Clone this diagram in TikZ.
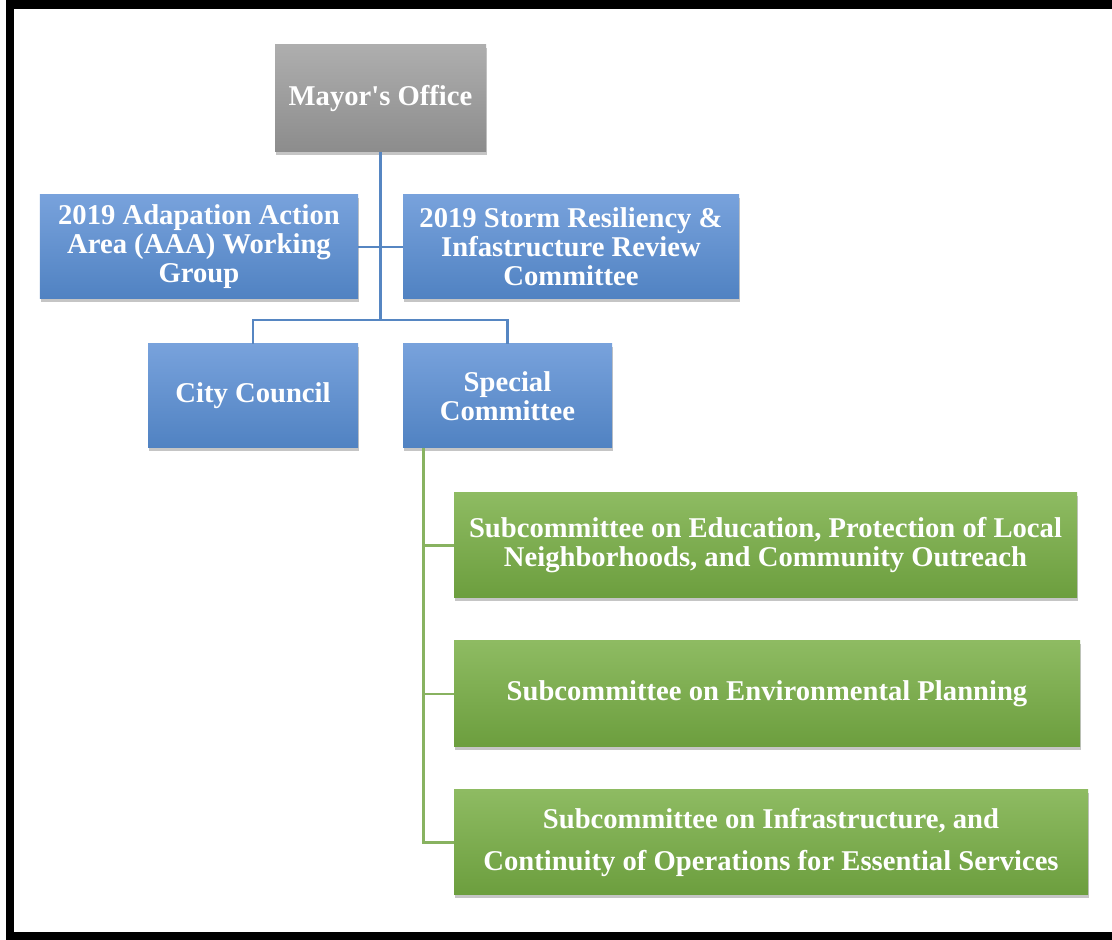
\documentclass[tikz,border=0pt]{standalone}
\usepackage{fontspec}
\setmainfont{Liberation Serif}
\usepackage{tikz}
\usetikzlibrary{shadows}
\definecolor{grayTop}{RGB}{174,174,174}
\definecolor{grayBot}{RGB}{140,140,140}
\definecolor{blueTop}{RGB}{120,162,220}
\definecolor{blueBot}{RGB}{80,130,194}
\definecolor{greenTop}{RGB}{142,187,98}
\definecolor{greenBot}{RGB}{108,158,62}
\definecolor{blueLine}{RGB}{86,134,194}
\definecolor{greenLine}{RGB}{136,178,96}
\tikzset{
	orgbox/.style={rectangle, inner sep=0pt, text=white, align=center,
		font=\fontsize{16.3}{16.5}\selectfont\bfseries,
		drop shadow={opacity=0.45, shadow xshift=0.02cm, shadow yshift=-0.07cm}},
	graybox/.style={orgbox, top color=grayTop, bottom color=grayBot},
	bluebox/.style={orgbox, top color=blueTop, bottom color=blueBot},
	greenbox/.style={orgbox, top color=greenTop, bottom color=greenBot},
	blueconn/.style={draw=blueLine, line width=1.4pt},
	greenconn/.style={draw=greenLine, line width=1.4pt}
}
\begin{document}
\begin{tikzpicture}
				\useasboundingbox (0, 0) rectangle (22.24, -18.8);
				\fill [white] (0, 0) rectangle (22.24, -18.8);
				\draw [line width=0.17cm] (22.5, -0.09) -- (0.2, -0.09) -- (0.2, -18.72) -- (22.5, -18.72);
				\node [graybox, minimum width=4.22cm, minimum height=2.14cm] (mayor) at (7.61, -1.97) {Mayor\textquotesingle s Office};
				\node [bluebox, minimum width=6.36cm, minimum height=2.08cm] (aaa) at (3.98, -4.94) {2019 Adapation Action\\Area (AAA) Working\\Group};
				\node [bluebox, minimum width=6.72cm, minimum height=2.08cm] (storm) at (11.42, -4.94) {2019 Storm Resiliency \&\\Infastructure Review\\Committee};
				\node [bluebox, minimum width=4.2cm, minimum height=2.08cm] (council) at (5.06, -7.92) {City Council};
				\node [bluebox, minimum width=4.18cm, minimum height=2.08cm] (special) at (10.15, -7.92) {Special\\Committee};
				\node [greenbox, minimum width=12.46cm, minimum height=2.1cm] (subedu) at (15.31, -10.91) {Subcommittee on Education, Protection of Local\\Neighborhoods, and Community Outreach};
				\node [greenbox, minimum width=12.52cm, minimum height=2.12cm] (subenv) at (15.34, -13.88) {Subcommittee on Environmental Planning};
				\node [greenbox, minimum width=12.68cm, minimum height=2.1cm] (subinf) at (15.42, -16.85) {Subcommittee on Infrastructure, and\\[7pt]Continuity of Operations for Essential Services};
				\coordinate (hub) at (7.61, -6.4);
				\coordinate (spine) at ([xshift=0.42cm]special.south west);
				\draw [blueconn] (mayor.south) -- (hub);
				\draw [blueconn] (aaa.east) -- (storm.west);
				\draw [blueconn] (council.north) |- (hub) -| (special.north);
				\draw [greenconn] (spine) |- (subinf.west);
				\draw [greenconn] (spine) |- (subedu.west);
				\draw [greenconn] (spine) |- (subenv.west);
			\end{tikzpicture}
\end{document}
